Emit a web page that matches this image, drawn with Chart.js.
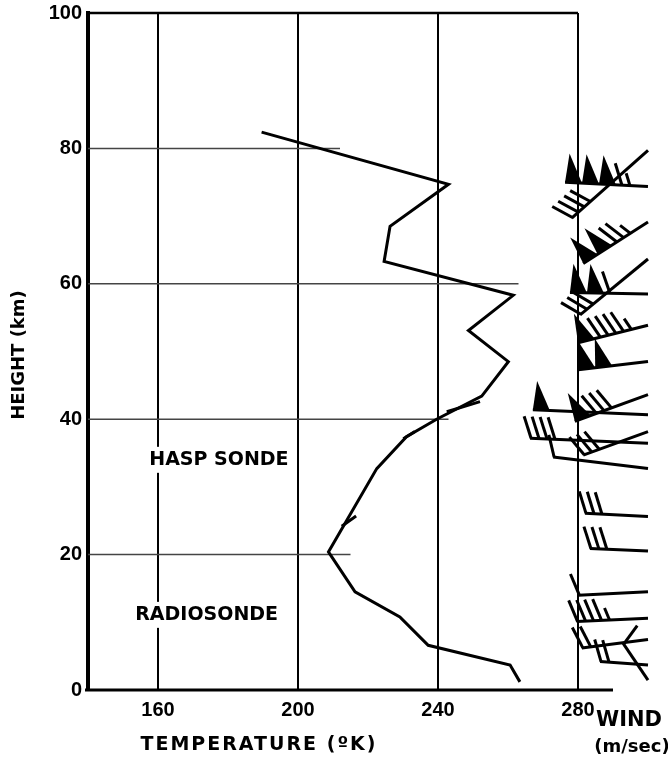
<!DOCTYPE html>
<html>
<head>
<meta charset="utf-8">
<script src="https://cdn.jsdelivr.net/npm/chart.js@4/dist/chart.umd.min.js"></script>
<style>
  body { margin: 0; background: #fff; }
  canvas { display: block; }
</style>
</head>
<body>
<canvas id="sondeChart" width="668" height="760"></canvas>
<script>
// temperature profile (K) against height (km)
var tempK    = [189.6, 243.0, 226.3, 224.6, 261.5, 248.7, 260.1, 252.5, 239.6, 231.0, 222.5, 208.7, 216.3, 229.1, 237.2, 260.6, 263.4];
var heightKm = [82.4, 74.7, 68.5, 63.3, 58.3, 53.1, 48.5, 43.4, 40.0, 37.4, 32.7, 20.4, 14.5, 10.8, 6.6, 3.7, 1.2];

// short overlapping pieces of the second trace (null = break)
var fragK  = [242.5, 252.0, null, 230.1, 233.4, null, 212.5, 216.6];
var fragKm = [41.1, 42.6, null, 37.1, 38.2, null, 24.2, 25.7];

// wind barbs: start of staff (K, km), staff direction (deg), speed
var windK   = [276.3, 278.2, 281.5, 277.7, 280.6, 280.0, 280.1, 267.1, 279.1, 266.3, 272.9, 281.5, 282.0, 283.4, 280.1, 279.6, 281.1, 286.3, 292.9];
var windKm  = [75.0, 69.7, 63.0, 58.7, 55.4, 51.3, 47.3, 41.4, 39.7, 37.2, 34.4, 34.7, 26.1, 20.9, 14.0, 10.1, 6.2, 4.2, 6.9];
var windDir = [-3, 41.6, 32.6, -1, 39.5, 14, 6.8, -2.5, 20, -2.5, -6.8, 19.9, -3, -2.4, 2.8, 2.8, 7.3, -4, -56];
var windSpd = [165, 40, 125, 110, 30, 95, 100, 50, 80, 40, 10, 30, 30, 30, 10, 45, 20, 20, 10];

var tempTicks = [160, 200, 240, 280];
var heightTicks = [0, 20, 40, 60, 80, 100];

var profile = [];
for (var i in tempK) {
    profile.push({x: tempK[i], y: heightKm[i]});
}
var frags = [];
for (var j in fragK) {
    frags.push({x: fragK[j] === null ? NaN : fragK[j], y: fragKm[j] === null ? NaN : fragKm[j]});
}

var FONT = '"DejaVu Sans", sans-serif';
var NUMFONT = '"Liberation Sans", sans-serif';

function drawBarb(ctx, x0, y0, deg, speed, xEnd) {
    var a = deg * Math.PI / 180;
    var ux = Math.cos(a), uy = -Math.sin(a);
    var px = -Math.sin(a), py = -Math.cos(a);
    var fa = a + 110 * Math.PI / 180;
    var fx = Math.cos(fa), fy = -Math.sin(fa);
    var len = (xEnd - x0) / ux;

    ctx.beginPath();
    ctx.moveTo(x0, y0);
    ctx.lineTo(x0 + ux * len, y0 + uy * len);
    ctx.stroke();

    var n50 = Math.floor(speed / 50);
    var rest = speed - n50 * 50;
    var n10 = Math.floor(rest / 10);
    var n5 = (rest - n10 * 10) >= 5 ? 1 : 0;
    var d = 0;
    for (var k = 0; k < n50; k++) {
        ctx.beginPath();
        ctx.moveTo(x0 + ux * d, y0 + uy * d);
        ctx.lineTo(x0 + ux * (d + 17), y0 + uy * (d + 17));
        ctx.lineTo(x0 + ux * (d + 3) + px * 29, y0 + uy * (d + 3) + py * 29);
        ctx.closePath();
        ctx.fill();
        d += 17;
    }
    if (n50 > 0) d += 6; else d += 1;
    for (var m = 0; m < n10 + n5; m++) {
        var fl = m < n10 ? 23 : 13;
        var bx = x0 + ux * d, by = y0 + uy * d;
        ctx.beginPath();
        ctx.moveTo(bx, by);
        ctx.lineTo(bx + fx * fl, by + fy * fl);
        ctx.stroke();
        d += 8;
    }
}

function labelBox(ctx, text, x, y) {
    var w = ctx.measureText(text).width;
    ctx.fillStyle = '#fff';
    ctx.fillRect(x - w / 2 - 4, y - 13, w + 8, 26);
    ctx.fillStyle = '#000';
    ctx.fillText(text, x, y);
}

var decor = {
    id: 'decor',
    beforeDatasetsDraw: function(chart) {
        var ctx = chart.ctx, xs = chart.scales.x, ys = chart.scales.y, area = chart.chartArea;
        ctx.save();
        // partial horizontal grid
        var rows = [[20, 215], [40, 243], [60, 263], [80, 212]];
        ctx.strokeStyle = '#444';
        ctx.lineWidth = 1.5;
        rows.forEach(function(r) {
            ctx.beginPath();
            ctx.moveTo(area.left, ys.getPixelForValue(r[0]));
            ctx.lineTo(xs.getPixelForValue(r[1]), ys.getPixelForValue(r[0]));
            ctx.stroke();
        });
        // top frame and bottom axis
        ctx.strokeStyle = '#000';
        ctx.lineWidth = 2.5;
        ctx.beginPath();
        ctx.moveTo(area.left, ys.getPixelForValue(100));
        ctx.lineTo(xs.getPixelForValue(280), ys.getPixelForValue(100));
        ctx.stroke();
        ctx.lineWidth = 3;
        ctx.beginPath();
        ctx.moveTo(area.left - 3, ys.getPixelForValue(0));
        ctx.lineTo(xs.getPixelForValue(290), ys.getPixelForValue(0));
        ctx.stroke();
        // in-plot labels
        ctx.font = 'bold 19px ' + FONT;
        ctx.textAlign = 'center';
        ctx.textBaseline = 'middle';
        labelBox(ctx, 'HASP SONDE', xs.getPixelForValue(177.4), ys.getPixelForValue(34.0));
        labelBox(ctx, 'RADIOSONDE', xs.getPixelForValue(173.9), ys.getPixelForValue(11.1));
        ctx.restore();
    },
    afterDatasetsDraw: function(chart) {
        var ctx = chart.ctx, xs = chart.scales.x, ys = chart.scales.y;
        ctx.save();
        ctx.strokeStyle = '#000';
        ctx.fillStyle = '#000';
        ctx.lineWidth = 3;
        ctx.lineCap = 'butt';
        var xEnd = xs.getPixelForValue(300);
        for (var i in windK) {
            drawBarb(ctx, xs.getPixelForValue(windK[i]), ys.getPixelForValue(windKm[i]), windDir[i], windSpd[i], xEnd);
        }
        // axis titles
        ctx.textBaseline = 'middle';
        ctx.textAlign = 'center';
        ctx.font = 'bold 19px ' + FONT;
        ctx.letterSpacing = '2px';
        ctx.fillText('TEMPERATURE (ºK)', 259, 745);
        ctx.letterSpacing = '0px';
        ctx.font = 'bold 21px ' + FONT;
        ctx.fillText('WIND', 629, 721);
        ctx.font = 'bold 18px ' + FONT;
        ctx.fillText('(m/sec)', 632, 747);
        ctx.translate(19, 355);
        ctx.rotate(-Math.PI / 2);
        ctx.font = 'bold 18px ' + FONT;
        ctx.fillText('HEIGHT (km)', 0, 0);
        ctx.restore();
    }
};

var chart = new Chart(document.getElementById('sondeChart'), {
    type: 'scatter',
    data: {
        datasets: [
            {data: profile, showLine: true, borderColor: '#000', borderWidth: 3, pointRadius: 0, tension: 0},
            {data: frags, showLine: true, borderColor: '#000', borderWidth: 3, pointRadius: 0, tension: 0, spanGaps: false}
        ]
    },
    options: {
        responsive: false,
        animation: false,
        layout: {padding: {left: 0, right: 20, top: 13, bottom: 0}},
        plugins: {legend: {display: false}, tooltip: {enabled: false}},
        scales: {
            x: {
                type: 'linear', min: 140, max: 300,
                afterBuildTicks: function(s) { s.ticks = tempTicks.map(function(v) { return {value: v}; }); },
                afterFit: function(s) { s.height = 70; s.paddingLeft = 0; s.paddingRight = 0; },
                grid: {color: '#000', lineWidth: 2, drawTicks: false},
                border: {display: false},
                ticks: {color: '#000', font: {family: NUMFONT, size: 20, weight: 'bold'}, padding: 8}
            },
            y: {
                type: 'linear', min: 0, max: 100,
                afterBuildTicks: function(s) { s.ticks = heightTicks.map(function(v) { return {value: v}; }); },
                afterFit: function(s) { s.width = 88; s.paddingTop = 0; s.paddingBottom = 0; },
                grid: {display: false, drawTicks: false},
                border: {display: true, color: '#000', width: 4},
                ticks: {color: '#000', font: {family: NUMFONT, size: 20, weight: 'bold'}, padding: 6}
            }
        }
    },
    plugins: [decor]
});
</script>
</body>
</html>
